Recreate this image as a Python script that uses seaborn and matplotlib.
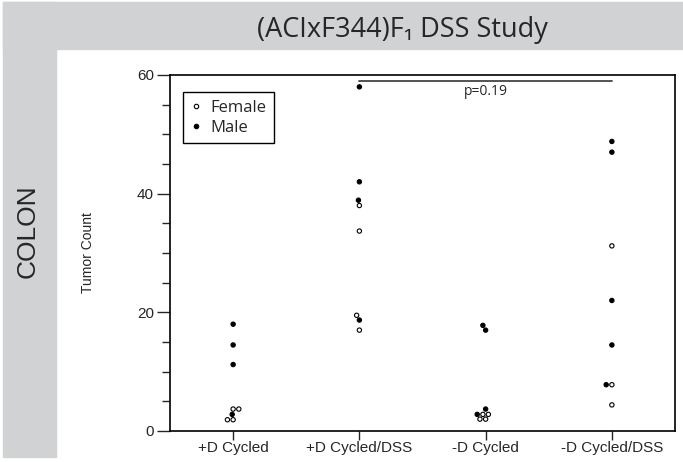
import matplotlib
matplotlib.use('Agg')
import matplotlib.pyplot as plt
from matplotlib.patches import Rectangle
from matplotlib.lines import Line2D
import pandas as pd
import seaborn as sns

# données (nombre de tumeurs par rat)
categories = ['+D Cycled', '+D Cycled/DSS', '-D Cycled', '-D Cycled/DSS']
female_dc = [3.7, 3.7, 1.9, 1.9]
male_dc = [18, 14.5, 11.2, 2.8]
female_dc_dss = [38, 33.7, 19.5, 17]
male_dc_dss = [58, 42, 38.9, 18.7]
female_nodc = [2.8, 2.8, 2, 2]
male_nodc = [17.8, 17, 3.7, 2.8]
female_nodc_dss = [31.2, 7.8, 4.4]
male_nodc_dss = [48.8, 47, 22, 14.5, 7.8]
p_text = 'p=0.19'

rows = []
for cat, fem, mal in zip(categories,
                         [female_dc, female_dc_dss, female_nodc, female_nodc_dss],
                         [male_dc, male_dc_dss, male_nodc, male_nodc_dss]):
    rows += [(cat, 'Female', v) for v in fem]
    rows += [(cat, 'Male', v) for v in mal]
df = pd.DataFrame(rows, columns=['Group', 'Sex', 'Tumor Count'])

sns.set_style('ticks')
plt.rcParams['font.family'] = ['Liberation Sans', 'DejaVu Sans']

fig = plt.figure(figsize=(6.83, 4.62), dpi=100)
W, H = 683, 462
band = '#d1d2d4'
# bandeaux gris (titre en haut, panneau à gauche)
fig.patches.append(Rectangle((3 / W, 1 - 49 / H), 1 - 3 / W, 47 / H,
                             transform=fig.transFigure, color=band, zorder=0))
fig.patches.append(Rectangle((3 / W, 1 - 457 / H), 53 / W, 455 / H,
                             transform=fig.transFigure, color=band, zorder=0))
fig.text(402 / W, 1 - 30 / H, '(ACIxF344)F\u2081 DSS Study', ha='center', va='center',
         fontsize=19.5, family=['Open Sans', 'DejaVu Sans'])
fig.text(28 / W, 1 - 231 / H, 'COLON', rotation=90, ha='center', va='center',
         fontsize=19)

ax = fig.add_axes([170 / W, 1 - 431 / H, 505 / W, 356 / H])
sns.swarmplot(data=df, x='Group', y='Tumor Count', hue='Sex', order=categories,
              palette={'Female': 'white', 'Male': 'black'}, edgecolor='black',
              linewidth=0.8, size=3.1, ax=ax, legend=False, clip_on=False)

ax.set_xlim(-0.5, 3.5)
ax.set_ylim(0, 60)
ax.set_yticks([0, 20, 40, 60])
ax.set_yticks(range(0, 61, 5), minor=True)
ax.tick_params(axis='y', which='major', length=9.5, width=1, labelsize=11, pad=2)
ax.tick_params(axis='y', which='minor', length=5.5, width=1)
ax.tick_params(axis='x', length=6.5, width=1, labelsize=11, pad=1)
ax.set_xlabel('')
ax.set_ylabel('Tumor Count', fontsize=10, labelpad=30)
for s in ax.spines.values():
    s.set_linewidth(1.2)
    s.set_color('black')

# ligne de comparaison et p-value
ax.plot([1, 3], [59, 59], color='#444444', lw=1.3, solid_capstyle='round')
ax.text(2, 57.3, p_text, ha='center', va='center', fontsize=10,
        family=['Open Sans', 'DejaVu Sans'])

handles = [Line2D([], [], ls='', marker='o', ms=3.2, mfc='white', mec='black', mew=0.8),
           Line2D([], [], ls='', marker='o', ms=3.2, mfc='black', mec='black', mew=0.8)]
leg = ax.legend(handles, ['Female', 'Male'], loc='upper left',
                bbox_to_anchor=(0.026, 0.952), fancybox=False, framealpha=1,
                edgecolor='black', handlelength=0.6, handletextpad=0.6,
                borderpad=0.45, labelspacing=0.25, borderaxespad=0,
                prop={'family': ['Open Sans', 'DejaVu Sans'], 'size': 12})
leg.get_frame().set_linewidth(1)

fig.savefig('out.png', dpi=100)
